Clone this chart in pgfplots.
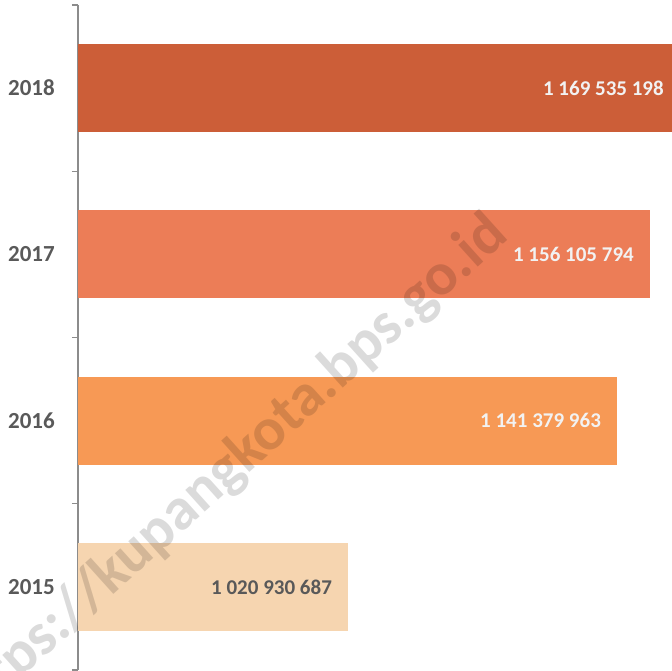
\documentclass[border=0pt]{standalone}
\usepackage{pgfplots}
\pgfplotsset{compat=1.18}
\usepackage{fontspec}
\setmainfont{Carlito}
\definecolor{c18}{HTML}{CC5E38}
\definecolor{c17}{HTML}{EC7D57}
\definecolor{c16}{HTML}{F79955}
\definecolor{c15}{HTML}{F6D5B0}
\definecolor{labgray}{HTML}{595959}
\definecolor{axisgray}{HTML}{8C8C8C}
\definecolor{valwhite}{HTML}{F2F2F2}
\begin{document}
\begin{tikzpicture}[x=1pt,y=1pt]
\begin{axis}[
  at={(0pt,0pt)}, anchor=south west,
  scale only axis, width=603pt, height=665pt,
  xmin=900000000, xmax=1170000000,
  ymin=-0.5, ymax=3.5,
  axis x line=none,
  axis y line*=left,
  y axis line style={draw=axisgray, line width=1.2pt},
  ytick={0,1,2,3}, yticklabels={2015,2016,2017,2018},
  major tick length=0pt,
  minor ytick={-0.5,0.5,1.5,2.5,3.5},
  minor tick length=6pt,
  tick align=outside,
  minor tick style={draw=axisgray, line width=1.2pt},
  yticklabel style={font=\fontsize{23}{23}\selectfont\bfseries, text=labgray, inner sep=0pt, xshift=-23pt},
  xbar, bar width=88pt, bar shift=0pt,
  clip=true,
  nodes near coords, point meta=explicit symbolic,
  nodes near coords style={anchor=east, xshift=-16pt, inner sep=0pt, font=\fontsize{21}{21}\selectfont\bfseries},
]
\addplot[fill=c15, draw=none, nodes near coords style={text=labgray}] coordinates {(1020930687,0) [1 020 930 687]};
\addplot[fill=c16, draw=none, nodes near coords style={text=valwhite}] coordinates {(1141379963,1) [1 141 379 963]};
\addplot[fill=c17, draw=none, nodes near coords style={text=valwhite}] coordinates {(1156105794,2) [1 156 105 794]};
\addplot[fill=c18, draw=none, nodes near coords style={text=valwhite}] coordinates {(1169535198,3) [1 169 535 198]};
\end{axis}
\node[rotate=42, anchor=base east, text=black, opacity=0.14, inner sep=0pt, font=\fontsize{60}{60}\selectfont\bfseries] at (432pt,432pt) {https://kupangkota.bps.go.id};
\pgfresetboundingbox
\path[use as bounding box] (-78pt,0pt) rectangle (594pt,670pt);
\end{tikzpicture}
\end{document}
